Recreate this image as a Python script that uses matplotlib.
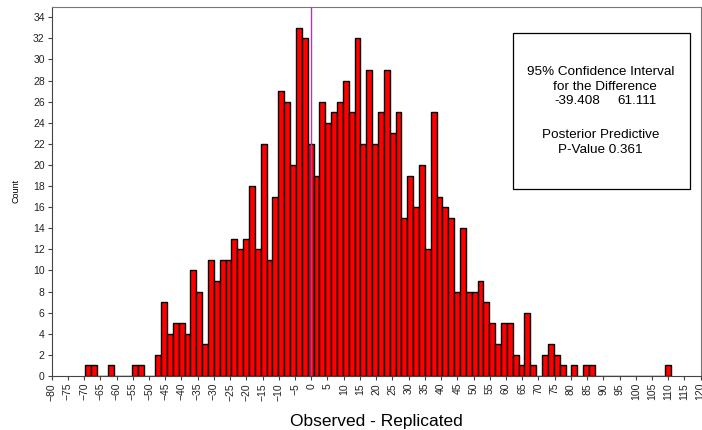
import numpy as np
import matplotlib
matplotlib.use('Agg')
import matplotlib.pyplot as plt
from matplotlib.patches import Rectangle

plt.rcParams['font.family'] = ['Liberation Sans', 'DejaVu Sans']

# histogram of observed - replicated, 100 bins
bin_start = -69.74
bin_width = 1.806
counts = [1, 1, 0, 0, 1, 0, 0, 0, 1, 1, 0, 0,
          2, 7, 4, 5, 5, 4, 10, 8, 3, 11,
          9, 11, 11, 13, 12, 13, 18, 12, 22, 11,
          17, 27, 26, 20, 33, 32, 22, 19, 26, 24,
          25, 26, 28, 25, 32, 22, 29, 22, 25, 29,
          23, 25, 15, 19, 16, 20, 12, 25, 17, 16,
          15, 8, 14, 8, 8, 9, 7, 5, 3, 5,
          5, 2, 1, 6, 1, 0, 2, 3, 2, 1,
          0, 1, 0, 1, 1,
          0, 0, 0, 0, 0, 0, 0, 0, 0, 0, 0, 0,
          1]
ci_low, ci_high = -39.408, 61.111
p_value = 0.361
ref_x = 0

edges = bin_start + bin_width * np.arange(len(counts) + 1)

fig = plt.figure(figsize=(7.02, 4.30), dpi=100)
ax = fig.add_axes([0.0736, 0.1256, 0.9245, 0.8588])

ax.bar(edges[:-1], counts, width=bin_width, align='edge',
       color='#ff0000', edgecolor='black', linewidth=1.0, zorder=2)
ax.axvline(ref_x, color='#a040b0', linewidth=1.0, zorder=3)

ax.set_xlim(-80, 120)
ax.set_ylim(0, 35)
ax.set_xticks(np.arange(-80, 121, 5))
ax.set_yticks(np.arange(0, 35, 2))
ax.tick_params(axis='x', labelsize=7.5, rotation=90, length=3, color='#444444', pad=2)
ax.tick_params(axis='y', labelsize=7.5, length=3, color='#444444', pad=2)
for lab in ax.get_xticklabels() + ax.get_yticklabels():
    lab.set_color('#222222')

for s in ['left', 'bottom']:
    ax.spines[s].set_color('#444444')
for s in ['top', 'right']:
    ax.spines[s].set_color('#777777')

ax.set_ylabel('Count', fontsize=6.5, labelpad=9)
ax.set_xlabel('Observed - Replicated', fontsize=12.5, labelpad=10)

# info box
ax.add_patch(Rectangle((0.711, 0.506), 0.272, 0.424, transform=ax.transAxes,
                       facecolor='white', edgecolor='black', linewidth=0.9, zorder=4))
kw = dict(transform=ax.transAxes, fontsize=9.7, ha='left', va='center', zorder=5)
ax.text(0.732, 0.824, '95% Confidence Interval', **kw)
ax.text(0.772, 0.783, 'for the Difference', **kw)
ax.text(0.775, 0.745, '%.3f' % ci_low, **kw)
ax.text(0.871, 0.745, '%.3f' % ci_high, **kw)
ax.text(0.755, 0.653, 'Posterior Predictive', **kw)
ax.text(0.780, 0.612, 'P-Value %.3f' % p_value, **kw)

fig.savefig('out.png', dpi=100)
